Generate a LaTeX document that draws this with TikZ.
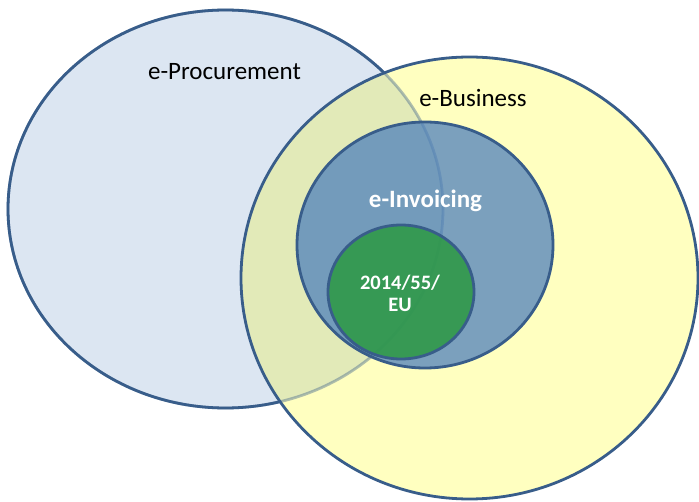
\documentclass[tikz,border=0pt]{standalone}
\usepackage{fontspec}
\setmainfont{Carlito}
\definecolor{procfill}{HTML}{DCE6F2}
\definecolor{vennline}{HTML}{385D8A}
\definecolor{busfill}{HTML}{FFFFC0}
\definecolor{overlapfill}{HTML}{E2EAB8}
\definecolor{invfill}{HTML}{4F81BD}
\definecolor{dirfill}{HTML}{2E9946}
\begin{document}
\begin{tikzpicture}[x=1pt,y=-1pt,
    vennline/.style={draw=vennline,line width=2.8pt},
    venntext/.style={font=\fontsize{25}{30}\selectfont,anchor=base},
    venntextw/.style={venntext,font=\fontsize{25}{30}\selectfont\bfseries,text=white}]
  \useasboundingbox (0,0) rectangle (699,502);
  % e-Procurement and e-Business
  \fill[procfill] (225.5,209) ellipse [x radius=217.5,y radius=199];
  \draw[vennline] (225.5,209) ellipse [x radius=217.5,y radius=199];
  \fill[busfill] (469.5,278) ellipse [x radius=228.5,y radius=221];
  \begin{scope}
    \clip (225.5,209) ellipse [x radius=217.5,y radius=199];
    \fill[overlapfill] (469.5,278) ellipse [x radius=228.5,y radius=221];
  \end{scope}
  \draw[vennline,draw opacity=0.4] (225.5,209) ellipse [x radius=217.5,y radius=199];
  \draw[vennline] (469.5,278) ellipse [x radius=228.5,y radius=221];
  % e-Invoicing and the directive
  \fill[invfill,fill opacity=0.75] (425,245) ellipse [x radius=128,y radius=123];
  \draw[vennline] (425,245) ellipse [x radius=128,y radius=123];
  \fill[dirfill,fill opacity=0.88] (401,292) ellipse [x radius=73,y radius=67];
  \draw[vennline] (401,292) ellipse [x radius=73,y radius=67];
  \node[venntext] at (224.5,80) (proc) {e-Procurement};
  \node[venntext] at (473,107) (bus) {e-Business};
  \node[venntextw] at (425.5,208) (inv) {e-Invoicing};
  \node[font=\fontsize{20.5}{22}\selectfont\bfseries,text=white,align=center]
    at (400,293) (dir) {2014/55/\\EU};
\end{tikzpicture}
\end{document}
